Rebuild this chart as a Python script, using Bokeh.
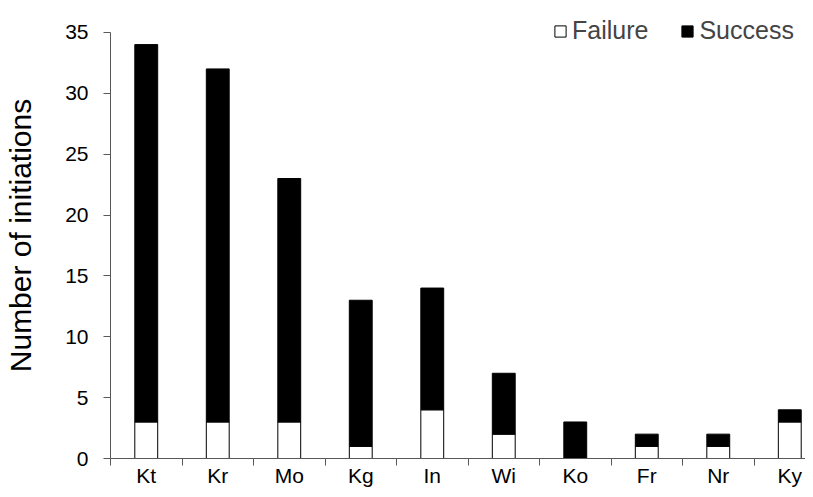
from bokeh.plotting import figure
from bokeh.models import Range1d, FixedTicker, Legend, LegendItem, LinearAxis
from bokeh.embed import file_html
from bokeh.resources import INLINE

categories = ["Kt", "Kr", "Mo", "Kg", "In", "Wi", "Ko", "Fr", "Nr", "Ky"]
failure = [3, 3, 3, 1, 4, 2, 0, 1, 1, 3]
success = [31, 29, 20, 12, 10, 5, 3, 1, 1, 1]
y_ticks = [0, 5, 10, 15, 20, 25, 30, 35]

centers = [i + 0.5 for i in range(len(categories))]
totals = [f + s for f, s in zip(failure, success)]

FONT = "Liberation Sans"
AX = "#595959"

p = figure(width=805, height=489, output_backend="svg", toolbar_location=None,
           x_range=Range1d(0, 9.72), y_range=Range1d(0, 36.635),
           min_border_left=110, min_border_right=0, min_border_top=12,
           min_border_bottom=29, x_axis_type=None, y_axis_type=None)
p.outline_line_color = None
p.xgrid.visible = False
p.ygrid.visible = False

r_fail = p.vbar(x=centers, width=0.32, bottom=0, top=failure,
                fill_color="white", line_color="black", line_width=1)
r_succ = p.vbar(x=centers, width=0.32, bottom=failure, top=totals,
                fill_color="black", line_color="black", line_width=1)

# y axis
yax = LinearAxis(ticker=FixedTicker(ticks=y_ticks))
yax.bounds = (0, 35)
yax.axis_line_color = AX
yax.major_tick_line_color = AX
yax.major_tick_in = 0
yax.major_tick_out = 7
yax.minor_tick_line_color = None
yax.major_label_standoff = 15
yax.major_label_text_font = FONT
yax.major_label_text_font_size = "21px"
yax.major_label_text_color = "black"
yax.axis_label = "Number of initiations"
yax.axis_label_text_font = FONT
yax.axis_label_text_font_size = "30px"
yax.axis_label_text_font_style = "normal"
yax.axis_label_text_color = "black"
yax.axis_label_standoff = 25
p.add_layout(yax, "left")

# x axis
xax = LinearAxis(ticker=FixedTicker(ticks=centers,
                                    minor_ticks=list(range(len(categories) + 1))))
xax.axis_line_color = AX
xax.major_tick_line_color = None
xax.major_tick_in = 0
xax.major_tick_out = 7
xax.minor_tick_line_color = AX
xax.minor_tick_in = 0
xax.minor_tick_out = 7
xax.major_label_standoff = -2
xax.major_label_overrides = {c: lab for c, lab in zip(centers, categories)}
xax.major_label_text_font = FONT
xax.major_label_text_font_size = "21px"
xax.major_label_text_color = "black"
p.add_layout(xax, "below")

legend = Legend(items=[LegendItem(label="Failure", renderers=[r_fail]),
                       LegendItem(label="Success", renderers=[r_succ])],
                orientation="horizontal", location=(443, 413),
                border_line_color=None, background_fill_alpha=0,
                padding=0, margin=0, spacing=32, label_standoff=5,
                glyph_width=14, glyph_height=14,
                label_text_font=FONT, label_text_font_size="25px")
p.add_layout(legend)

open("out.html", "w").write(file_html(p, INLINE))
